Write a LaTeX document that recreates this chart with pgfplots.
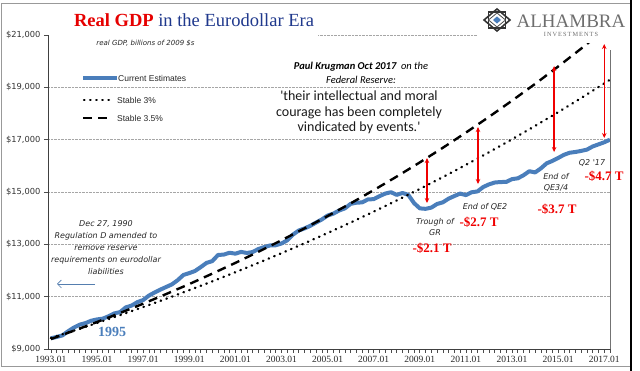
\documentclass[border=0pt]{standalone}
\usepackage{fontspec}
\setmainfont{Liberation Serif}
\setsansfont{Liberation Sans}
\newfontfamily\carlito{Carlito}
\newfontfamily\dejavu{DejaVu Sans}
\usepackage{pgfplots}
\pgfplotsset{compat=1.18}
\usepackage{pgfplotstable}
\usetikzlibrary{arrows.meta}
\definecolor{gdpblue}{RGB}{74,126,187}
\definecolor{titlered}{RGB}{230,0,0}
\definecolor{titleblue}{RGB}{31,56,140}
\definecolor{annred}{RGB}{240,0,0}
\definecolor{logogray}{RGB}{110,110,110}
\tikzset{dotline/.style={black, line width=2.4pt, line cap=round, dash pattern=on 0.5pt off 5.6pt}}

\pgfplotstableread{
q v
0 9410
1 9460
2 9520
3 9680
4 9820
5 9930
6 9990
7 10080
8 10130
9 10160
10 10250
11 10360
12 10410
13 10590
14 10660
15 10790
16 10870
17 11040
18 11160
19 11270
20 11370
21 11470
22 11630
23 11830
24 11900
25 11980
26 12130
27 12290
28 12359
29 12593
30 12608
31 12679
32 12643
33 12710
34 12670
35 12705
36 12822
37 12893
38 12956
39 12964
40 13031
41 13152
42 13372
43 13529
44 13607
45 13706
46 13831
47 13950
48 14099
49 14173
50 14292
51 14373
52 14546
53 14590
54 14603
55 14717
56 14726
57 14839
58 14939
59 14992
60 14890
61 14963
62 14892
63 14577
64 14375
65 14356
66 14403
67 14542
68 14605
69 14746
70 14846
71 14939
72 14881
73 14990
74 15021
75 15190
76 15291
77 15362
78 15381
79 15384
80 15492
81 15522
82 15641
83 15794
84 15747
85 15901
86 16095
87 16187
88 16300
89 16420
90 16500
91 16530
92 16570
93 16620
94 16740
95 16820
96 16900
97 17000
}\gdp

\pgfplotstableread{
q v
0 9420
4 9703
8 9994
12 10293
16 10602
20 10920
24 11248
28 11585
32 11933
36 12291
40 12660
44 13039
48 13431
52 13833
56 14249
60 14676
64 15116
68 15570
72 16037
76 16518
80 17014
84 17524
88 18050
92 18591
96 19149
97 19292
}\stablethree

\pgfplotstableread{
q v
0 9380
4 9700
8 10030
12 10375
16 10730
20 11100
24 11480
28 11880
32 12290
36 12715
40 13155
44 13610
48 14080
52 14565
56 15070
60 15590
64 16130
68 16690
72 17270
76 17870
80 18490
84 19130
88 19795
92 20480
96 21190
}\stablethreehalf

\begin{document}
\begin{tikzpicture}
\path[use as bounding box] (0pt,0pt) rectangle (640pt,371pt);
\begin{axis}[at={(48pt,22pt)}, anchor=south west, scale only axis,
  width=562pt, height=314pt,
  xmin=-0.5, xmax=97, ymin=9000, ymax=21000,
  axis x line*=bottom, axis y line*=left,
  axis line style={-, black!75, line width=0.8pt},
  xtick={0,8,...,96},
  xticklabels={1993.01,1995.01,1997.01,1999.01,2001.01,2003.01,2005.01,2007.01,2009.01,2011.01,2013.01,2015.01,2017.01},
  minor xtick={0,1,...,97},
  tick align=outside, major tick length=4pt, minor tick length=4pt,
  tick style={black!70, line width=0.6pt},
  ytick={9000,11000,...,21000},
  scaled y ticks=false,
  ymajorgrids, grid style={densely dotted, black!35, line width=0.5pt},
  yticklabel={\$\pgfmathprintnumber{\tick}},
  /pgf/number format/.cd, 1000 sep={,}, fixed, assume math mode=true,
  /pgfplots/.cd,
  yticklabel style={font=\dejavu\fontsize{8.3}{9}\selectfont, text=black!80},
  xticklabel style={font=\fontsize{9.5}{10}\selectfont, text=black!85},
]
\addplot[gdpblue, line width=4pt, line join=round] table[x=q,y=v] {\gdp};
\addplot[dotline] table[x=q,y=v] {\stablethree};
\addplot[black, line width=2.4pt, dash pattern=on 9pt off 6pt] table[x=q,y=v] {\stablethreehalf};

\draw[annred, line width=1.2pt, {Stealth[length=5pt,width=4.5pt]}-{Stealth[length=5pt,width=4.5pt]}] (axis cs:65.25,14579) -- (axis cs:65.25,16298);
\draw[annred, line width=1.2pt, {Stealth[length=5pt,width=4.5pt]}-{Stealth[length=5pt,width=4.5pt]}] (axis cs:74.1,15305) -- (axis cs:74.1,17483);
\draw[annred, line width=1.2pt, {Stealth[length=5pt,width=4.5pt]}-{Stealth[length=5pt,width=4.5pt]}] (axis cs:87.3,16528) -- (axis cs:87.3,19814);
\draw[annred, line width=1.2pt, {Stealth[length=5pt,width=4.5pt]}-{Stealth[length=5pt,width=4.5pt]}] (axis cs:96,17063) -- (axis cs:96,20655);
\end{axis}

\begin{scope}[x=1pt,y=1pt]
% right plot border
\draw[black!55, line width=0.7pt] (610,22) -- (610,321);
% cover for title area
\fill[white] (49,331) rectangle (318,340);
% logo cover
\fill[white] (478,328) rectangle (629,366);

% frame
\draw[black!40, line width=1pt] (1.5,4) rectangle (631,367);
\draw[black, line width=1.4pt] (631,0) -- (631,371);

% title
\node[anchor=base, inner sep=0] at (194,344) {\fontsize{18.5}{20}\selectfont\textcolor{titlered}{\bfseries Real GDP} \textcolor{titleblue}{in the Eurodollar Era}};

% logo
\begin{scope}[shift={(497,351)}]
  \draw[black!80, line width=1.6pt] (-13,0) -- (0,11) -- (13,0) -- (0,-11) -- cycle;
  \draw[black!80, line width=1.6pt] (-8.5,-8) rectangle (8.5,8);
  \draw[black!70, line width=0.8pt] (-8.5,0) -- (0,7) -- (8.5,0) -- (0,-7) -- cycle;
  \fill[gdpblue] (-4,0) -- (0,3.6) -- (4,0) -- (0,-3.6) -- cycle;
\end{scope}
\node[inner sep=0, text=logogray, font=\fontsize{19}{20}\selectfont] at (571,350) {ALHAMBRA};
\node[inner sep=0, text=logogray, font=\fontsize{6.3}{7}\selectfont] at (571,337) {I\,N\,V\,E\,S\,T\,M\,E\,N\,T\,S};

% subtitle
\node[inner sep=0, text=black!85, font=\dejavu\itshape\fontsize{7}{8}\selectfont] at (145.5,328) {real GDP, billions of 2009 \$s};

% legend
\draw[gdpblue, line width=4pt] (83,293) -- (117,293);
\draw[dotline] (84,271) -- (112,271);
\draw[black, line width=2.4pt, dash pattern=on 9pt off 6pt] (83,253) -- (113,253);
\node[anchor=west, inner sep=0, text=black!85, font=\sffamily\fontsize{8.5}{9}\selectfont] at (118,293) {Current Estimates};
\node[anchor=west, inner sep=0, text=black!85, font=\sffamily\fontsize{8.5}{9}\selectfont] at (117,271) {Stable 3\%};
\node[anchor=west, inner sep=0, text=black!85, font=\sffamily\fontsize{8.5}{9}\selectfont] at (117,253) {Stable 3.5\%};

% Krugman
\node[inner sep=0, text=black, font=\carlito\itshape\fontsize{10.5}{12}\selectfont] at (361,304) {\textbf{Paul Krugman Oct 2017}~ on the};
\node[inner sep=0, text=black, font=\carlito\itshape\fontsize{10.5}{12}\selectfont] at (361,291) {Federal Reserve:};
\node[inner sep=0, align=center, text=black!90, font=\carlito\fontsize{14}{15.6}\selectfont] at (359,258.5) {'their intellectual and moral\\courage has been completely\\vindicated by events.'};

% Dec 27 1990
\node[inner sep=0, align=center, text=black!85, font=\dejavu\itshape\fontsize{8}{12}\selectfont] at (106,123) {Dec 27, 1990\\Regulation D amended to\\remove reserve\\requirements on eurodollar\\liabilities};
\draw[gdpblue!80!gray, line width=0.6pt, -{Straight Barb[length=4pt,width=8pt]}] (95,87) -- (57,87);
\node[inner sep=0, text=gdpblue, font=\bfseries\fontsize{14}{15}\selectfont] at (112,39) {1995};

% red labels
\node[inner sep=0, text=annred, font=\bfseries\fontsize{13}{14}\selectfont] at (432,123) {-\$2.1 T};
\node[inner sep=0, text=annred, font=\bfseries\fontsize{13}{14}\selectfont] at (479,149) {-\$2.7 T};
\node[inner sep=0, text=annred, font=\bfseries\fontsize{13}{14}\selectfont] at (557,162) {-\$3.7 T};
\node[inner sep=0, text=annred, font=\bfseries\fontsize{13}{14}\selectfont] at (604,195) {-\$4.7 T};

% small italic labels
\node[inner sep=0, align=center, text=black!85, font=\dejavu\itshape\fontsize{8}{11}\selectfont] at (435,143.5) {Trough of\\GR};
\node[inner sep=0, text=black!85, font=\dejavu\itshape\fontsize{8}{11}\selectfont] at (485,164) {End of QE2};
\node[inner sep=0, align=center, text=black!85, font=\dejavu\itshape\fontsize{8}{11}\selectfont] at (556,188.5) {End of\\QE3/4};
\node[inner sep=0, text=black!85, font=\dejavu\itshape\fontsize{8}{11}\selectfont] at (592,208) {Q2 '17};
\end{scope}
\end{tikzpicture}
\end{document}
